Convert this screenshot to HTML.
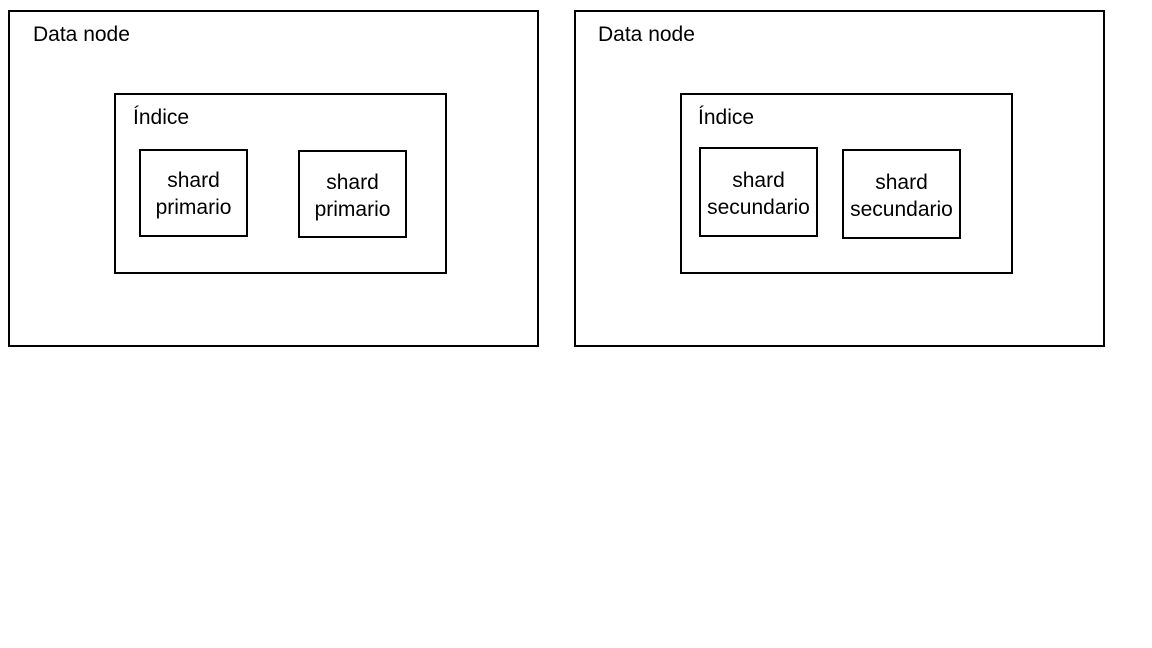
<!DOCTYPE html>
<html><head><meta charset="utf-8"><style>
html,body{margin:0;padding:0;background:#fff;width:1152px;height:648px;overflow:hidden}
svg text{font-family:"Liberation Sans",Arial,sans-serif;font-size:21px;fill:#000}
</style></head><body>
<svg width="1152" height="648" xmlns="http://www.w3.org/2000/svg">
<g fill="none" stroke="#000" stroke-width="2">
<rect x="9" y="11" width="529" height="335"/>
<rect x="115" y="94" width="331" height="179"/>
<rect x="140" y="150" width="107" height="86"/>
<rect x="299" y="151" width="107" height="86"/>
<rect x="575" y="11" width="529" height="335"/>
<rect x="681" y="94" width="331" height="179"/>
<rect x="700" y="148" width="117" height="88"/>
<rect x="843" y="150" width="117" height="88"/>
</g>
<text x="33" y="41">Data node</text>
<text x="133" y="124">Índice</text>
<text x="193.5" y="187" text-anchor="middle">shard</text>
<text x="193.5" y="214" text-anchor="middle">primario</text>
<text x="352.5" y="189" text-anchor="middle">shard</text>
<text x="352.5" y="216" text-anchor="middle">primario</text>
<text x="598" y="41">Data node</text>
<text x="698" y="124">Índice</text>
<text x="758.5" y="187" text-anchor="middle">shard</text>
<text x="758.5" y="214" text-anchor="middle">secundario</text>
<text x="901.5" y="189" text-anchor="middle">shard</text>
<text x="901.5" y="216" text-anchor="middle">secundario</text>
</svg>
</body></html>
